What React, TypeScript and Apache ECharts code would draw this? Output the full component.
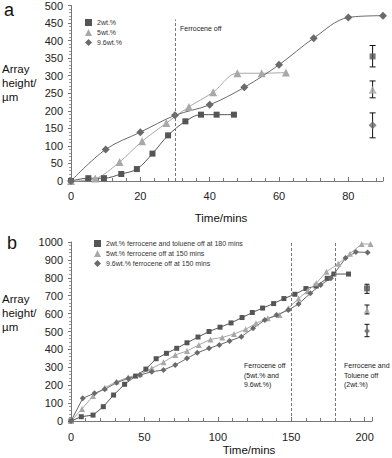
import React, { useEffect, useRef } from "react";
import * as echarts from "echarts";

// ---------- Panel a data ----------
const aTime2 = [0, 5, 9.5, 14.5, 19, 23.5, 28, 33, 37.5, 42, 47];
const aHeight2 = [0, 8, 8, 20, 34, 78, 130, 170, 189, 189, 189];
const aTime5 = [0, 7, 14, 20.5, 27.5, 34, 41, 48, 55, 62];
const aHeight5 = [0, 7, 54, 113, 165, 211, 253, 307, 307, 309];
const aTime96 = [0, 10, 20, 30, 40, 50, 60, 70, 80, 90];
const aHeight96 = [0, 90, 139, 187, 217, 267, 331, 407, 466, 471];
const aErrX = 87;
const aErrMean = [355, 260, 159];
const aErrLow = [325, 237, 123];
const aErrHigh = [386, 285, 194];
const aOffTime = 30;

// ---------- Panel b data ----------
const bTime2 = [0, 7, 15, 22, 29, 36.5, 44, 51, 58, 65, 72, 79, 86.5, 94, 101.5, 109, 116.5, 123.5, 130.5, 138, 145, 152.5, 160, 167, 174.5, 179, 189];
const bHeight2 = [0, 24, 33, 80, 145, 205, 251, 290, 348, 378, 406, 437, 469, 500, 524, 548, 578, 606, 631, 656, 684, 708, 740, 754, 797, 821, 821];
const bTime5 = [0, 7.5, 15, 23, 31, 39, 47, 55, 63, 71, 79, 87, 95, 103, 111, 119, 126, 134, 142, 148, 155, 161, 167, 174, 182, 190, 198, 204];
const bHeight5 = [0, 67, 140, 186, 220, 244, 261, 294, 328, 369, 391, 425, 456, 467, 486, 512, 546, 574, 592, 630, 685, 725, 769, 834, 878, 935, 989, 989];
const bTime96 = [0, 8, 16, 23, 31, 39, 47, 55, 63, 71, 79, 86, 94, 101, 108, 116, 124, 132, 140, 148, 155, 163, 170, 177, 187, 194, 202];
const bHeight96 = [0, 127, 155, 177, 214, 238, 257, 275, 285, 313, 350, 381, 406, 425, 447, 471, 518, 564, 592, 620, 654, 713, 760, 797, 910, 944, 942];
const bErrX = 201.6;
const bErrMean = [741, 620, 503];
const bErrLow = [713, 598, 471];
const bErrHigh = [764, 648, 540];
const bOffTimes = [150, 180];

const aNames = ["2wt.%", "5wt.%", "9.6wt.%"];
const bNames = [
  "2wt.% ferrocene and toluene off at 180 mins",
  "5wt.% ferrocene off at 150 mins",
  "9.6wt.% ferrocene off at 150 mins",
];

const FONT = "'Liberation Sans', Arial, sans-serif";
const C_SQ = "#555555";
const C_TRI = "#a8a8a8";
const C_DIA = "#6a6a6a";
const colors = [C_SQ, C_TRI, C_DIA];
const symbols = ["rect", "triangle", "diamond"];

function zip(xs: number[], ys: number[]) {
  return xs.map((x, i) => [x, ys[i]]);
}

function errRender(cap: number) {
  return (params: any, api: any) => {
    const x = api.value(0);
    const lo = api.value(2);
    const hi = api.value(3);
    const t = api.coord([x, hi]);
    const b = api.coord([x, lo]);
    const style = { stroke: "#111", lineWidth: 1 };
    return {
      type: "group",
      children: [
        { type: "line", shape: { x1: t[0], y1: t[1], x2: b[0], y2: b[1] }, style },
        { type: "line", shape: { x1: t[0] - cap, y1: t[1], x2: t[0] + cap, y2: t[1] }, style },
        { type: "line", shape: { x1: b[0] - cap, y1: b[1], x2: b[0] + cap, y2: b[1] }, style },
      ],
    };
  };
}

const plain = (v: number) => String(v);

function axisCommon() {
  return {
    axisLine: { show: true, lineStyle: { color: "#777", width: 1 } },
    splitLine: { show: false },
    minorSplitLine: { show: false },
  };
}

export default function App() {
  const ref = useRef<HTMLDivElement>(null);
  useEffect(() => {
    if (!ref.current) return;
    const chart = echarts.init(ref.current, undefined, { renderer: "svg" });

    const dashed = { type: [3, 2] as any, color: "#777", width: 1 };

    const series: any[] = [];
    const aSets = [
      [aTime2, aHeight2, 6],
      [aTime5, aHeight5, 8],
      [aTime96, aHeight96, 8],
    ] as any[];
    aSets.forEach((s, i) => {
      series.push({
        type: "line",
        name: aNames[i],
        xAxisIndex: 0,
        yAxisIndex: 0,
        data: zip(s[0], s[1]),
        smooth: 0.35,
        symbol: symbols[i],
        symbolSize: s[2],
        showAllSymbol: true,
        clip: false,
        itemStyle: { color: colors[i] },
        lineStyle: { color: colors[i], width: 1 },
        ...(i === 0
          ? {
              markLine: {
                silent: true,
                symbol: "none",
                label: { show: false },
                lineStyle: dashed,
                data: [[{ coord: [aOffTime, 0] }, { coord: [aOffTime, 460] }]],
              },
            }
          : {}),
      });
    });
    const bSets = [
      [bTime2, bHeight2, 5],
      [bTime5, bHeight5, 6],
      [bTime96, bHeight96, 6],
    ] as any[];
    bSets.forEach((s, i) => {
      series.push({
        type: "line",
        name: bNames[i],
        xAxisIndex: 1,
        yAxisIndex: 1,
        data: zip(s[0], s[1]),
        symbol: symbols[i],
        symbolSize: s[2],
        showAllSymbol: true,
        clip: false,
        itemStyle: { color: colors[i] },
        lineStyle: { color: colors[i], width: 1 },
        ...(i === 0
          ? {
              markLine: {
                silent: true,
                symbol: "none",
                label: { show: false },
                lineStyle: dashed,
                data: bOffTimes.map((t) => [{ coord: [t, 0] }, { coord: [t, 1000] }]),
              },
            }
          : {}),
      });
    });

    // error bars
    series.push({
      type: "custom",
      name: "errA",
      xAxisIndex: 0,
      yAxisIndex: 0,
      renderItem: errRender(3),
      encode: { x: 0, y: [1, 2, 3] },
      data: aErrMean.map((m, i) => [aErrX, m, aErrLow[i], aErrHigh[i]]),
      z: 3,
    });
    series.push({
      type: "scatter",
      name: "errAc",
      xAxisIndex: 0,
      yAxisIndex: 0,
      z: 4,
      data: aErrMean.map((m, i) => ({
        value: [aErrX, m],
        symbol: symbols[i],
        symbolSize: i === 0 ? 6 : 8,
        itemStyle: { color: colors[i] },
      })),
    });
    series.push({
      type: "custom",
      name: "errB",
      xAxisIndex: 1,
      yAxisIndex: 1,
      renderItem: errRender(2.5),
      encode: { x: 0, y: [1, 2, 3] },
      data: bErrMean.map((m, i) => [bErrX, m, bErrLow[i], bErrHigh[i]]),
      z: 3,
    });
    series.push({
      type: "scatter",
      name: "errBc",
      xAxisIndex: 1,
      yAxisIndex: 1,
      z: 4,
      data: bErrMean.map((m, i) => ({
        value: [bErrX, m],
        symbol: symbols[i],
        symbolSize: 6,
        itemStyle: { color: colors[i] },
      })),
    });

    const legendText = { fontSize: 7, color: "#333", fontFamily: FONT };
    const tickLabel = { fontSize: 11, color: "#222", fontFamily: FONT, formatter: plain };

    chart.setOption({
      animation: false,
      textStyle: { fontFamily: FONT },
      grid: [
        { left: 71, top: 5, width: 312, height: 176 },
        { left: 71, top: 242, width: 301, height: 179 },
      ],
      legend: [
        {
          left: 80,
          top: 14,
          orient: "vertical",
          itemWidth: 7,
          itemHeight: 7,
          itemGap: 3,
          textStyle: legendText,
          data: aNames.map((n, i) => ({ name: n, icon: symbols[i] })),
        },
        {
          left: 89,
          top: 235,
          orient: "vertical",
          itemWidth: 7,
          itemHeight: 7,
          itemGap: 3,
          textStyle: legendText,
          data: bNames.map((n, i) => ({ name: n, icon: symbols[i] })),
        },
      ],
      xAxis: [
        {
          type: "value",
          gridIndex: 0,
          min: 0,
          max: 90,
          interval: 20,
          ...axisCommon(),
          axisTick: { show: true, inside: true, length: 4, lineStyle: { color: "#777" } },
          minorTick: { show: true, splitNumber: 5, length: 3, lineStyle: { color: "#777" } },
          axisLabel: { ...tickLabel, margin: 9, showMaxLabel: false },
        },
        {
          type: "value",
          gridIndex: 1,
          min: 0,
          max: 205,
          interval: 50,
          ...axisCommon(),
          axisTick: { show: true, inside: true, length: 4, lineStyle: { color: "#777" } },
          minorTick: { show: true, splitNumber: 5, length: 3, lineStyle: { color: "#777" } },
          axisLabel: { ...tickLabel, margin: 10, showMaxLabel: false },
        },
      ],
      yAxis: [
        {
          type: "value",
          gridIndex: 0,
          min: 0,
          max: 500,
          interval: 50,
          ...axisCommon(),
          axisTick: { show: true, length: 3, lineStyle: { color: "#777" } },
          minorTick: { show: true, splitNumber: 5, length: 2, lineStyle: { color: "#999" } },
          axisLabel: { ...tickLabel, margin: 8 },
        },
        {
          type: "value",
          gridIndex: 1,
          min: 0,
          max: 1000,
          interval: 100,
          ...axisCommon(),
          axisTick: { show: true, length: 3, lineStyle: { color: "#777" } },
          minorTick: { show: true, splitNumber: 5, length: 2, lineStyle: { color: "#999" } },
          axisLabel: { ...tickLabel, margin: 8 },
        },
      ],
      graphic: [
        { type: "text", left: 4, top: 1, style: { text: "a", fontSize: 18, fill: "#111", fontFamily: FONT } },
        { type: "text", left: 7, top: 234, style: { text: "b", fontSize: 18, fill: "#111", fontFamily: FONT } },
        {
          type: "text",
          left: 2,
          top: 62,
          style: { text: "Array\nheight/\nµm", fontSize: 11.5, lineHeight: 14, fill: "#111", fontFamily: FONT },
        },
        {
          type: "text",
          left: 2,
          top: 292,
          style: { text: "Array\nheight/\nµm", fontSize: 11.5, lineHeight: 14, fill: "#111", fontFamily: FONT },
        },
        {
          type: "text",
          x: 221,
          y: 218,
          style: { text: "Time/mins", fontSize: 11.5, fill: "#111", fontFamily: FONT, align: "center", verticalAlign: "middle" },
        },
        {
          type: "text",
          x: 249,
          y: 450,
          style: { text: "Time/mins", fontSize: 11.5, fill: "#111", fontFamily: FONT, align: "center", verticalAlign: "middle" },
        },
        {
          type: "text",
          x: 180,
          y: 28,
          style: { text: "Ferrocene off", fontSize: 7, fill: "#222", fontFamily: FONT, verticalAlign: "middle" },
        },
        {
          type: "text",
          x: 244,
          y: 361,
          style: { text: "Ferrocene off\n(5wt.% and\n9.6wt.%)", fontSize: 7, lineHeight: 9.5, fill: "#222", fontFamily: FONT },
        },
        {
          type: "text",
          x: 344,
          y: 361,
          style: { text: "Ferrocene and\nToluene off\n(2wt.%)", fontSize: 7, lineHeight: 9.5, fill: "#222", fontFamily: FONT },
        },
      ],
      series,
    });
    return () => chart.dispose();
  }, []);
  return (
    <div
      ref={ref}
      style={{ position: "absolute", left: 0, top: 0, width: 392, height: 458, background: "#fff" }}
    />
  );
}
